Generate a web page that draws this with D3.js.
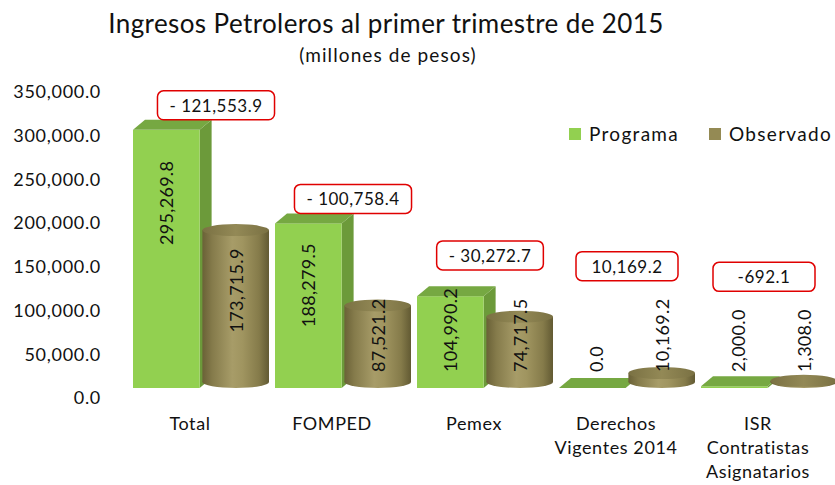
<!DOCTYPE html>
<html><head><meta charset="utf-8">
<script src="https://cdn.jsdelivr.net/npm/d3@7"></script>
<style>
body{margin:0;background:#fff;}
text{font-family:Lato,"Open Sans",sans-serif;fill:#111;}
</style></head>
<body><svg id="c" width="835" height="485"></svg>
<script>
const categories = [["Total"],["FOMPED"],["Pemex"],["Derechos","Vigentes 2014"],["ISR","Contratistas","Asignatarios"]];
const programa = [295269.8, 188279.5, 104990.2, 0.0, 2000.0];
const observado = [173715.9, 87521.2, 74717.5, 10169.2, 1308.0];
const diffLabels = ["- 121,553.9","- 100,758.4","- 30,272.7","10,169.2","-692.1"];
const yTicks = [0,50000,100000,150000,200000,250000,300000,350000];

const svg = d3.select("#c");
const fmt = d3.format(",.1f");
const y = d3.scaleLinear().domain([0,350000]).range([398,92]);
const x = d3.scaleBand().domain(d3.range(categories.length)).range([119,829]);
const sub = d3.scaleBand().domain(["p","o"]).range([14,150]).paddingInner(0.04);
const boxX = d3.scalePoint().domain(d3.range(categories.length)).range([216,764]);

const defs = svg.append("defs");
const g1 = defs.append("linearGradient").attr("id","cyl").attr("x1","0").attr("x2","1").attr("y1","0").attr("y2","0");
[[0,"#6a6137"],[0.15,"#857b4b"],[0.45,"#a79c68"],[0.6,"#a09560"],[0.85,"#857b4a"],[1,"#625a33"]].forEach(s=>g1.append("stop").attr("offset",s[0]).attr("stop-color",s[1]));
const g2 = defs.append("linearGradient").attr("id","cyltop").attr("x1","0").attr("x2","1");
[[0,"#7a7143"],[0.5,"#938956"],[1,"#7a7143"]].forEach(s=>g2.append("stop").attr("offset",s[0]).attr("stop-color",s[1]));

svg.append("text").attr("x",386).attr("y",33).attr("text-anchor","middle").style("font-size","26px").style("letter-spacing","0.4px").text("Ingresos Petroleros al primer trimestre de 2015");
svg.append("text").attr("x",388).attr("y",62).attr("text-anchor","middle").style("font-size","19px").style("letter-spacing","1.1px").text("(millones de pesos)");

const ax = svg.append("g").attr("transform","translate(101,0)")
  .call(d3.axisLeft(y).tickValues(yTicks).tickFormat(fmt).tickSize(0).tickPadding(0));
ax.select(".domain").remove();
ax.selectAll("text").style("font-family","Lato,'Open Sans',sans-serif").style("font-size","18px").style("letter-spacing","0.7px").attr("fill","#111");

const DX=12, DY=-10, OFF=10;
const bars = svg.append("g");
programa.forEach((v,i)=>{
  const x0 = x(i)+sub("p"), w = sub.bandwidth();
  const yt = y(v)-OFF, yb = y(0)-OFF;
  const g = bars.append("g");
  g.append("polygon").attr("points",[[x0+w,yt],[x0+w+DX,yt+DY],[x0+w+DX,yb+DY],[x0+w,yb]].join(" ")).attr("fill","#6c9a3a");
  g.append("rect").attr("x",x0).attr("y",yt).attr("width",w).attr("height",yb-yt).attr("fill","#92d050");
  g.append("polygon").attr("points",[[x0,yt],[x0+DX,yt+DY],[x0+w+DX,yt+DY],[x0+w,yt]].join(" ")).attr("fill","#76a842");
});
observado.forEach((v,i)=>{
  const x0 = x(i)+sub("o"), w = sub.bandwidth();
  const cx = x0+w/2, rx=w/2, ry=6;
  const yt = y(v)-16, yb = y(0)-16;
  const g = bars.append("g");
  g.append("ellipse").attr("cx",cx).attr("cy",yb).attr("rx",rx).attr("ry",ry).attr("fill","url(#cyl)");
  g.append("rect").attr("x",x0).attr("y",yt).attr("width",w).attr("height",Math.max(0,yb-yt)).attr("fill","url(#cyl)");
  g.append("ellipse").attr("cx",cx).attr("cy",yt).attr("rx",rx).attr("ry",ry).attr("fill","url(#cyltop)");
});

function valLabel(v,cx,ytop,ybot){
  const t = svg.append("text").attr("text-anchor","end").style("font-size","18px").style("letter-spacing","0.3px").text(fmt(v));
  const len = t.node().getComputedTextLength();
  let top = ytop + 0.12*(ybot-ytop);
  if (top+len > 372) top = 372-len;
  t.attr("transform",`translate(${cx+7},${top}) rotate(-90)`);
  return top;
}
const labelTops = [];
programa.forEach((v,i)=>{
  const x0 = x(i)+sub("p"), w = sub.bandwidth();
  labelTops[i] = valLabel(v, x0+w/2+(v<5000?4:0), y(v)-OFF, y(0)-OFF);
});
observado.forEach((v,i)=>{
  const x0 = x(i)+sub("o"), w = sub.bandwidth();
  const t = valLabel(v, x0+w/2, y(v)-16, y(0)-16);
  labelTops[i] = Math.min(labelTops[i], t);
});

diffLabels.forEach((s,i)=>{
  const bottom = Math.min(y(programa[i])-OFF+DY, labelTops[i]-18);
  const cx = boxX(i);
  const rect = svg.append("rect");
  const t = svg.append("text").attr("x",cx).attr("y",bottom-8).attr("text-anchor","middle").style("font-size","17px").style("letter-spacing","0.5px").text(s);
  const len = t.node().getComputedTextLength();
  const bw = Math.max(102, len+24);
  rect.attr("x",cx-bw/2).attr("y",bottom-29).attr("width",bw).attr("height",29)
    .attr("rx",6).attr("fill","#fff").attr("stroke","#e00000").attr("stroke-width",1.5);
});

categories.forEach((lines,i)=>{
  const t = svg.append("text").attr("text-anchor","middle").style("font-size","18px").style("letter-spacing","0.6px");
  lines.forEach((l,j)=>t.append("tspan").attr("x",x(i)+x.bandwidth()/2).attr("y",430+j*24).text(l));
});

const leg = [["Programa","#92d050",569],["Observado","#948a54",709]];
leg.forEach(d=>{
  svg.append("rect").attr("x",d[2]).attr("y",128).attr("width",12).attr("height",12).attr("fill",d[1]);
  svg.append("text").attr("x",d[2]+20).attr("y",141).style("font-size","19px").style("letter-spacing","1.3px").text(d[0]);
});
</script></body></html>
